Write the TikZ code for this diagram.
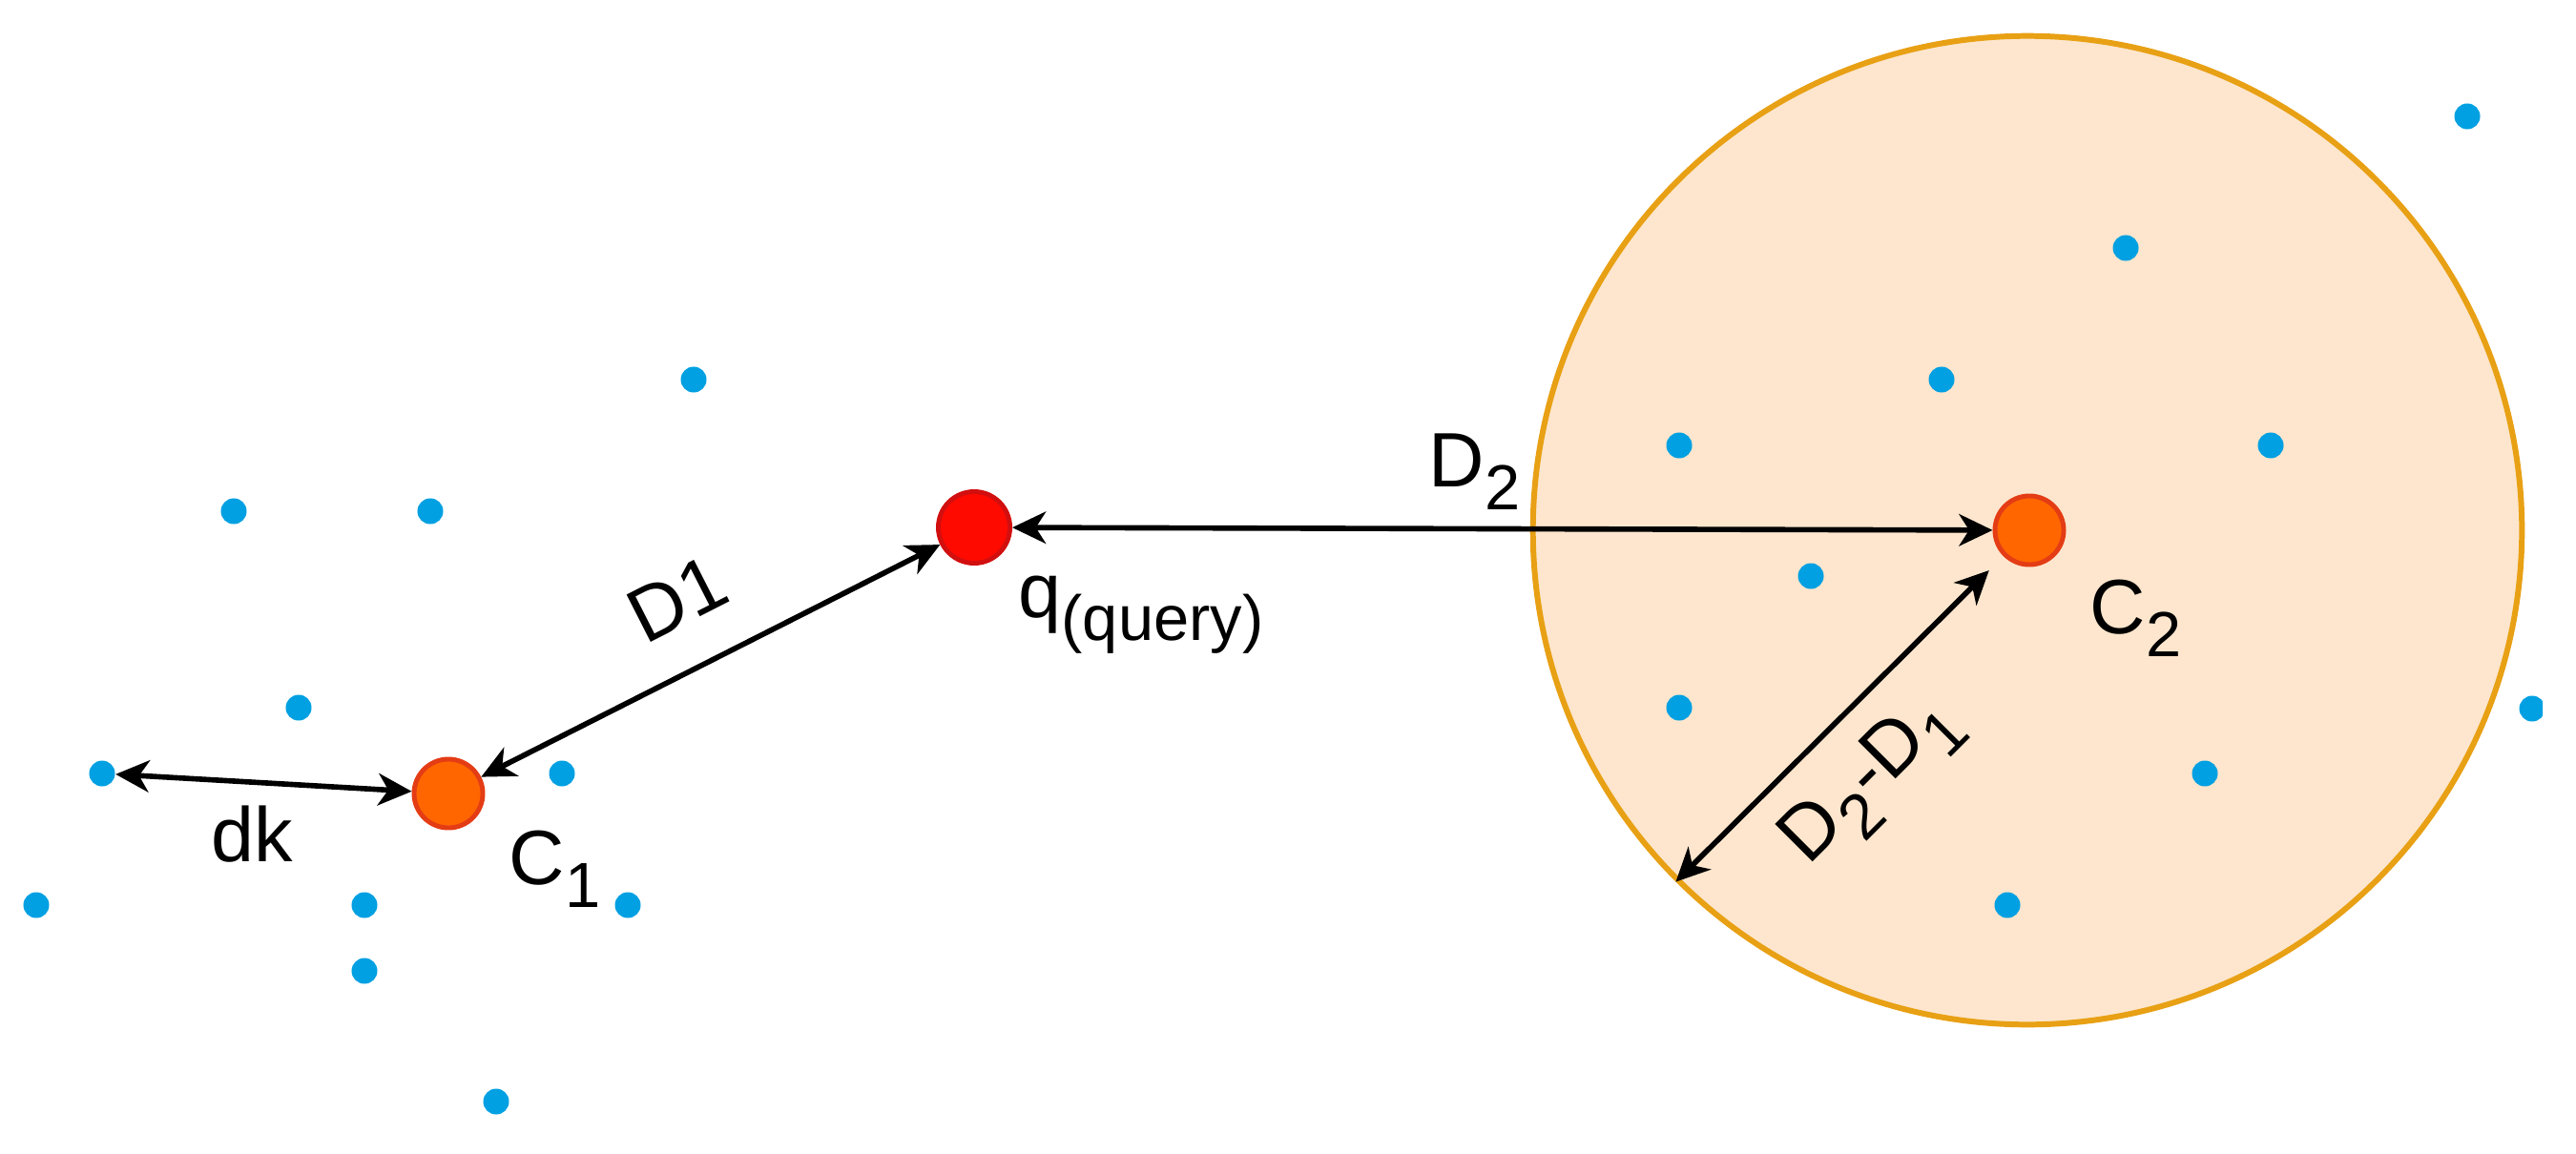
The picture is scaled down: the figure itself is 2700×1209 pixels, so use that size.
\documentclass[tikz,border=0pt]{standalone}
\usepackage{fontspec}
\setmainfont{Liberation Sans}
\usetikzlibrary{arrows.meta}
\definecolor{dotblue}{RGB}{0,160,226}
\definecolor{zonefill}{RGB}{253,230,205}
\definecolor{zoneline}{RGB}{232,160,20}
\definecolor{cfill}{RGB}{255,102,0}
\definecolor{cline}{RGB}{228,60,20}
\definecolor{qfill}{RGB}{255,10,0}
\definecolor{qline}{RGB}{210,15,15}
\newcommand{\lowsub}[1]{\raisebox{-7pt}{\fontsize{19}{19}\selectfont #1}}
\begin{document}
\begin{tikzpicture}[x=0.01cm,y=-0.01cm,
  bluedot/.style={circle,fill=dotblue,inner sep=0,minimum size=0.27cm},
  centre/.style={circle,inner sep=0,minimum size=0.72cm,line width=1.4pt,draw=cline,fill=cfill},
  querydot/.style={circle,inner sep=0,minimum size=0.75cm,line width=1.4pt,draw=qline,fill=qfill},
  zone/.style={circle,inner sep=0,minimum size=10.36cm,line width=1.7pt,draw=zoneline,fill=zonefill},
  lbl/.style={inner sep=0,font=\fontsize{23}{27}\selectfont},
  arr/.style={{Stealth[length=10pt,width=9.5pt,inset=3pt]}-{Stealth[length=10pt,width=9.5pt,inset=3pt]},line width=1.6pt}]
\useasboundingbox (0,0) rectangle (2700,1209);
\node[zone] (zone) at (2125,556) {};
% blue points
\node[bluedot] (d1) at (727,398) {};
\node[bluedot] (d2) at (245,536) {};
\node[bluedot] (d3) at (451,536) {};
\node[bluedot] (d4) at (313,742) {};
\node[bluedot] (d5) at (107,811) {};
\node[bluedot] (d6) at (589,811) {};
\node[bluedot] (d7) at (38,949) {};
\node[bluedot] (d8) at (382,949) {};
\node[bluedot] (d9) at (658,949) {};
\node[bluedot] (d10) at (382,1018) {};
\node[bluedot] (d11) at (520,1155) {};
\node[bluedot] (d12) at (2586,122) {};
\node[bluedot] (d13) at (2228,260) {};
\node[bluedot] (d14) at (2035,398) {};
\node[bluedot] (d15) at (1760,467) {};
\node[bluedot] (d16) at (2380,467) {};
\node[bluedot] (d17) at (1898,604) {};
\node[bluedot] (d18) at (1760,742) {};
\node[bluedot] (d19) at (2311,811) {};
\node[bluedot] (d20) at (2104,949) {};
\begin{scope}
\clip (0,0) rectangle (2665,1209);
\node[bluedot] (d21) at (2654,743) {};
\end{scope}
% centres and query
\node[centre] (c1) at (470,832) {};
\node[centre] (c2) at (2127,556) {};
\node[querydot] (q) at (1021,553) {};
\coordinate (rim) at (zone.225);
% connectors
\draw[arr] (d5) -- (c1);
\draw[arr] (c1) -- (q);
\draw[arr] (q) -- (c2);
\draw[arr,shorten >=6pt] (rim) -- (c2);
% labels
\node[lbl,anchor=base west] (ldk) at (221,903) {dk};
\node[lbl,anchor=base west] (lc1) at (533,927) {C\lowsub{1}};
\node[lbl,anchor=base west] (lq) at (1067,647) {q\lowsub{(query)}};
\node[lbl,anchor=base west] (ld2) at (1497,510) {D\lowsub{2}};
\node[lbl,anchor=base west] (lc2) at (2190,664) {C\lowsub{2}};
\node[lbl,rotate=27] (ld1) at (710,628) {D1};
\node[lbl,rotate=45] (ld21) at (1962,820) {D\lowsub{2}-D\lowsub{1}};
\end{tikzpicture}
\end{document}
